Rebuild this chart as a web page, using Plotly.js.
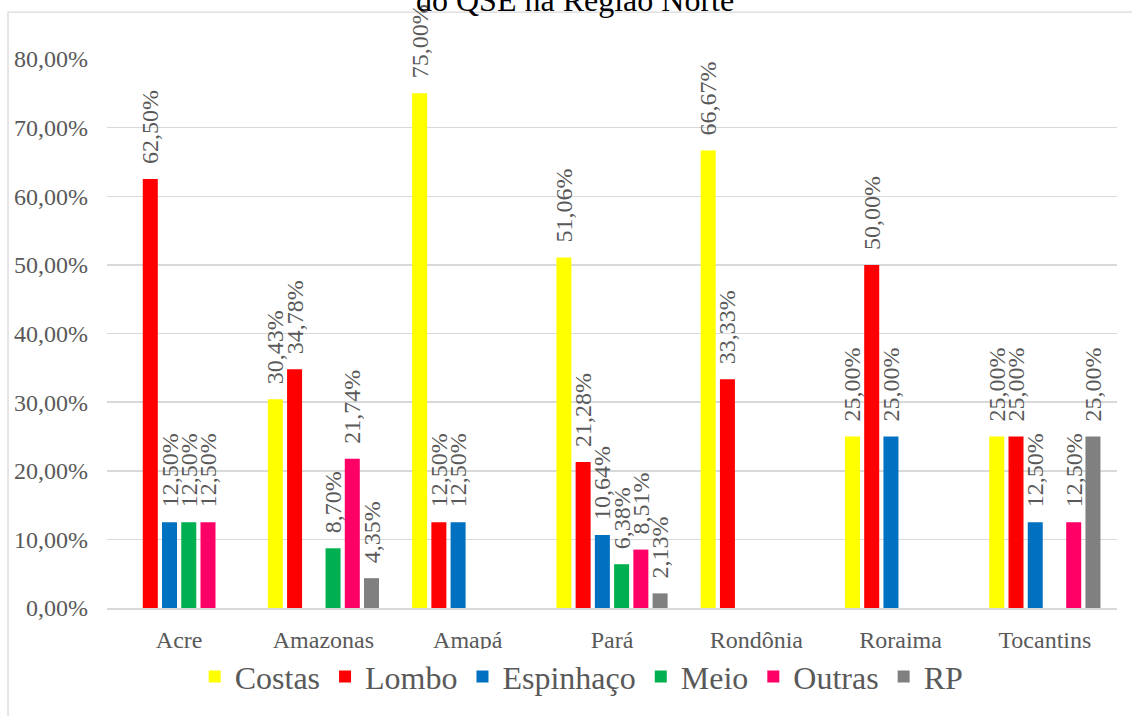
<!DOCTYPE html>
<html>
<head>
<meta charset="utf-8">
<script src="https://cdn.plot.ly/plotly-3.0.1.min.js"></script>
<style>html,body{margin:0;padding:0;background:#fff;}#chart{width:1132px;height:716px;}</style>
</head>
<body>
<div id="chart"></div>
<script>
const categories = ["Acre", "Amazonas", "Amapá", "Pará", "Rondônia", "Roraima", "Tocantins"];
const seriesNames = ["Costas", "Lombo", "Espinhaço", "Meio", "Outras", "RP"];
const costas    = [null, 30.43, 75.00, 51.06, 66.67, 25.00, 25.00];
const lombo     = [62.50, 34.78, 12.50, 21.28, 33.33, 50.00, 25.00];
const espinhaco = [12.50, null, 12.50, 10.64, null, 25.00, 12.50];
const meio      = [12.50, 8.70, null, 6.38, null, null, null];
const outras    = [12.50, 21.74, null, 8.51, null, null, 12.50];
const rp        = [null, 4.35, null, 2.13, null, null, 25.00];
const seriesValues = [costas, lombo, espinhaco, meio, outras, rp];
const colors = ["#FFFF00", "#FF0000", "#0070C0", "#00B050", "#FF0066", "#808080"];
const yTicks = [0, 10, 20, 30, 40, 50, 60, 70, 80];
const yTickLabels = yTicks.map(v => v.toFixed(2).replace('.', ',') + '%');

const FONT = 'Liberation Serif, Times New Roman, serif';
const GRAY = '#595959';

const traces = seriesNames.map((name, i) => ({
  type: 'bar',
  name: name,
  x: categories,
  y: seriesValues[i],
  marker: {color: colors[i]},
  texttemplate: '\u00A0\u00A0%{y:.2f}%',
  textposition: 'outside',
  textangle: -90,
  constraintext: 'none',
  cliponaxis: false,
  textfont: {family: FONT, size: 24, color: GRAY},
  hoverinfo: 'skip'
}));

const layout = {
  width: 1132, height: 716,
  margin: {l: 107, r: 15, t: 59, b: 106},
  paper_bgcolor: '#fff', plot_bgcolor: '#fff',
  separators: ',.',
  font: {family: FONT, size: 24, color: GRAY},
  title: {
    text: 'do QSE na Região Norte',
    font: {family: FONT, size: 32, color: '#000'},
    x: 0.508, xanchor: 'center',
    yref: 'container', y: 1, yanchor: 'middle'
  },
  barmode: 'group',
  bargap: 0.2,
  bargroupgap: 0.22,
  showlegend: true,
  legend: {
    orientation: 'h', x: 0.47, xanchor: 'center', y: -0.125, yanchor: 'middle',
    font: {family: FONT, size: 32, color: GRAY},
    traceorder: 'normal'
  },
  xaxis: {
    type: 'category',
    showgrid: false,
    showline: true, linecolor: '#d9d9d9', linewidth: 1.5,
    ticks: '',
    ticklabelstandoff: 10,
    tickfont: {family: FONT, size: 24, color: GRAY},
    fixedrange: true
  },
  yaxis: {
    range: [0, 80],
    tickmode: 'array',
    tickvals: yTicks,
    ticktext: yTickLabels,
    showgrid: true, gridcolor: '#d9d9d9', gridwidth: 1.5,
    zeroline: false, showline: false,
    ticks: '',
    ticklabelstandoff: 18,
    tickfont: {family: FONT, size: 24, color: GRAY},
    fixedrange: true
  },
  shapes: [{
    type: 'rect', xref: 'paper', yref: 'paper',
    x0: -0.098, x1: 1.2, y0: -0.5, y1: 1.0853,
    line: {color: '#d9d9d9', width: 1.3},
    fillcolor: 'rgba(0,0,0,0)', layer: 'below'
  }]
};

Plotly.newPlot('chart', traces, layout, {displayModeBar: false, staticPlot: true});
</script>
</body>
</html>
